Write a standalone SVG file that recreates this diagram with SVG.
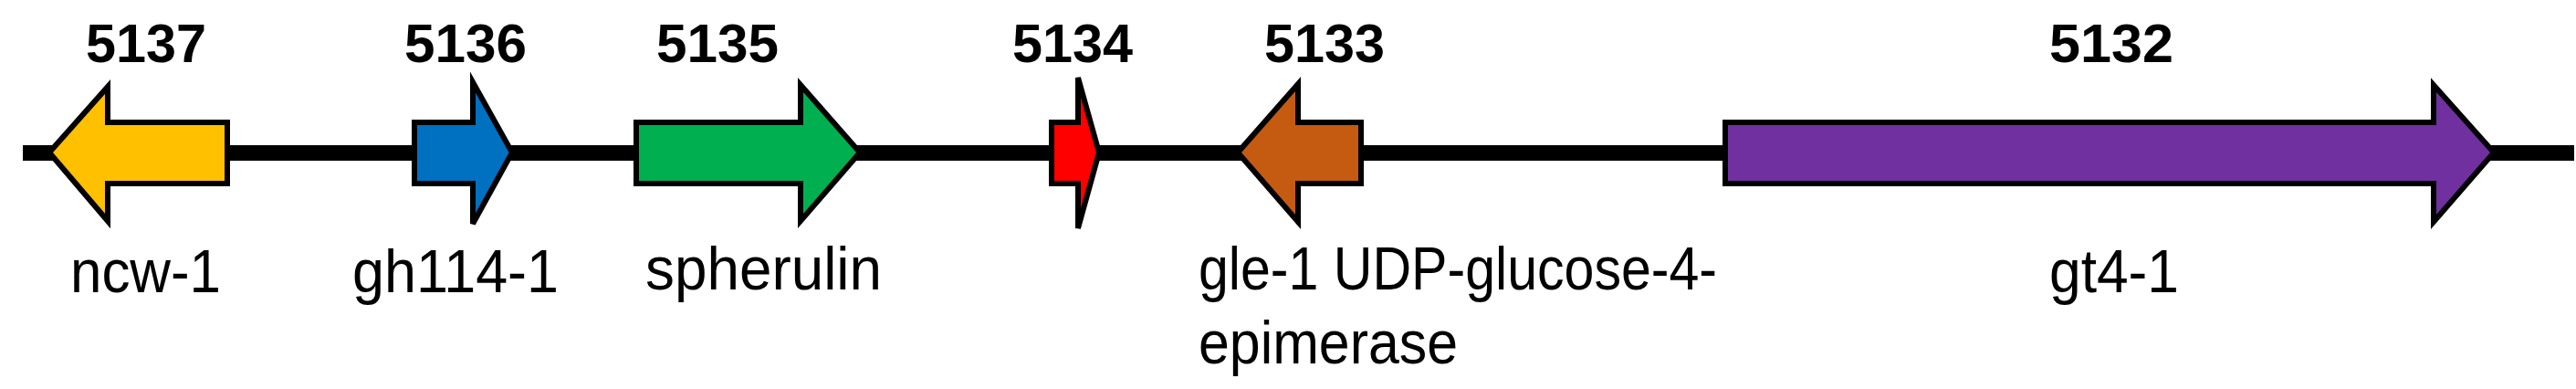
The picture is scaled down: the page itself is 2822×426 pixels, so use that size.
<svg xmlns="http://www.w3.org/2000/svg" width="2822" height="426" viewBox="0 0 2822 426">
<style>
.g{stroke:#000;stroke-width:6;stroke-linejoin:miter}
.n{font-family:"Liberation Sans",Arial,sans-serif;font-weight:bold;font-size:60px;fill:#000}
.l{font-family:"Liberation Sans",Arial,sans-serif;font-size:66px;fill:#000}
</style>
<rect width="2822" height="426" fill="#fff"/>
<g id="connectors"><rect x="25" y="159" width="2795" height="17" fill="#000"/></g>
<g id="g5137"><path class="g" fill="#FFC000" d="M54,167 L118,95 L118,134 L249,134 L249,201 L118,201 L118,242 Z"/>
<text class="n" x="94" y="68" textLength="132" lengthAdjust="spacingAndGlyphs">5137</text>
<text class="l" x="77" y="320" textLength="165" lengthAdjust="spacingAndGlyphs">ncw-1</text></g>
<g id="g5136"><path class="g" fill="#0070C0" d="M454,134 L518,134 L518,90 L561,167 L518,245 L518,201 L454,201 Z"/>
<text class="n" x="443" y="68" textLength="134" lengthAdjust="spacingAndGlyphs">5136</text>
<text class="l" x="386" y="320" textLength="226" lengthAdjust="spacingAndGlyphs">gh114-1</text></g>
<g id="g5135"><path class="g" fill="#00B050" d="M697,134 L877,134 L877,93 L942,167 L877,242 L877,201 L697,201 Z"/>
<text class="n" x="719" y="68" textLength="134" lengthAdjust="spacingAndGlyphs">5135</text>
<text class="l" x="707" y="317" textLength="259" lengthAdjust="spacingAndGlyphs">spherulin</text></g>
<g id="g5134"><path class="g" fill="#FF0000" d="M1152,134 L1181,134 L1181,85 L1204,167 L1181,250 L1181,201 L1152,201 Z"/>
<text class="n" x="1109" y="68" textLength="132" lengthAdjust="spacingAndGlyphs">5134</text></g>
<g id="g5133"><path class="g" fill="#C55A11" d="M1356,167 L1422,92 L1422,134 L1491,134 L1491,201 L1422,201 L1422,243 Z"/>
<text class="n" x="1385" y="68" textLength="132" lengthAdjust="spacingAndGlyphs">5133</text>
<text class="l" x="1313" y="317" textLength="568" lengthAdjust="spacingAndGlyphs">gle-1 UDP-glucose-4-</text>
<text class="l" x="1313" y="398" textLength="284" lengthAdjust="spacingAndGlyphs">epimerase</text></g>
<g id="g5132"><path class="g" fill="#7030A0" d="M1890,134 L2666,134 L2666,93 L2732,167 L2666,243 L2666,201 L1890,201 Z"/>
<text class="n" x="2245" y="68" textLength="136" lengthAdjust="spacingAndGlyphs">5132</text>
<text class="l" x="2245" y="320" textLength="142" lengthAdjust="spacingAndGlyphs">gt4-1</text></g>
</svg>
